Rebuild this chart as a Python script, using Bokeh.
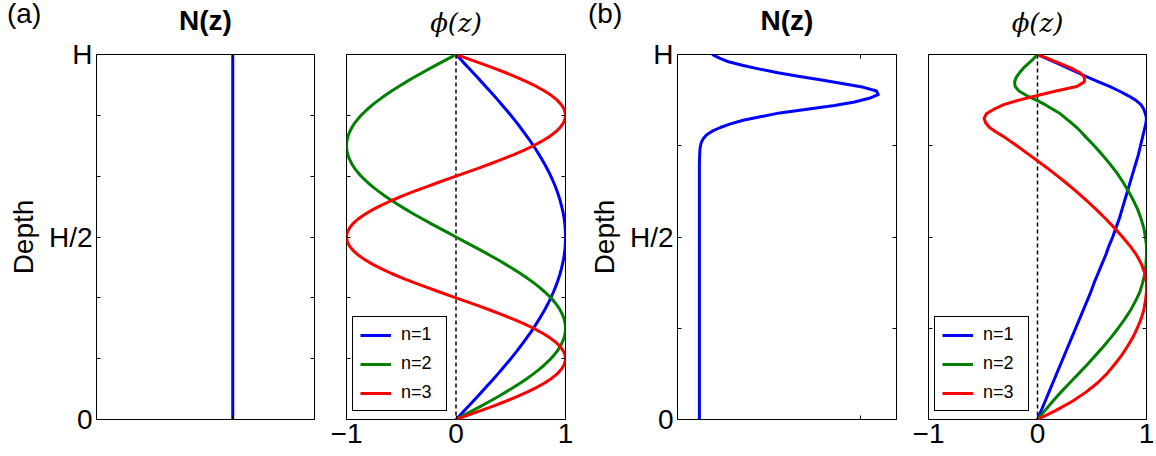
from bokeh.plotting import figure
from bokeh.layouts import row, column
from bokeh.models import Range1d, LinearAxis, FixedTicker, CustomJSTickFormatter, Span, Div
from bokeh.embed import file_html
from bokeh.resources import INLINE

# ---------------- data (depth z in units of H: 0 = bottom, 1 = top) ----------------
# (a) constant stratification
Z_A = [0.0, 0.0125, 0.025, 0.0375, 0.05, 0.0625, 0.075, 0.0875, 0.1, 0.1125, 0.125, 0.1375,
       0.15, 0.1625, 0.175, 0.1875, 0.2, 0.2125, 0.225, 0.2375, 0.25, 0.2625, 0.275, 0.2875,
       0.3, 0.3125, 0.325, 0.3375, 0.35, 0.3625, 0.375, 0.3875, 0.4, 0.4125, 0.425, 0.4375,
       0.45, 0.4625, 0.475, 0.4875, 0.5, 0.5125, 0.525, 0.5375, 0.55, 0.5625, 0.575, 0.5875,
       0.6, 0.6125, 0.625, 0.6375, 0.65, 0.6625, 0.675, 0.6875, 0.7, 0.7125, 0.725, 0.7375,
       0.75, 0.7625, 0.775, 0.7875, 0.8, 0.8125, 0.825, 0.8375, 0.85, 0.8625, 0.875, 0.8875,
       0.9, 0.9125, 0.925, 0.9375, 0.95, 0.9625, 0.975, 0.9875, 1.0]
N_A_Z = [0.0, 1.0]
N_A = [1.0, 1.0]
PHI_A_1 = [0, .039, .078, .118, .156, .195, .233, .271, .309, .346, .383, .419, .454, .489,
           .523, .556, .588, .619, .649, .679, .707, .734, .760, .785, .809, .831, .853, .872,
           .891, .908, .924, .938, .951, .962, .972, .981, .988, .993, .997, .999, 1.0, .999,
           .997, .993, .988, .981, .972, .962, .951, .938, .924, .908, .891, .872, .853, .831,
           .809, .785, .760, .734, .707, .679, .649, .619, .588, .556, .523, .489, .454, .419,
           .383, .346, .309, .271, .233, .195, .156, .118, .078, .039, 0]
PHI_A_2 = [0, .078, .156, .233, .309, .383, .454, .523, .588, .649, .707, .760, .809, .853,
           .891, .924, .951, .972, .988, .997, 1.0, .997, .988, .972, .951, .924, .891, .853,
           .809, .760, .707, .649, .588, .523, .454, .383, .309, .233, .156, .078, 0, -.078,
           -.156, -.233, -.309, -.383, -.454, -.523, -.588, -.649, -.707, -.760, -.809, -.853,
           -.891, -.924, -.951, -.972, -.988, -.997, -1.0, -.997, -.988, -.972, -.951, -.924,
           -.891, -.853, -.809, -.760, -.707, -.649, -.588, -.523, -.454, -.383, -.309, -.233,
           -.156, -.078, 0]
PHI_A_3 = [0, .118, .233, .346, .454, .556, .649, .734, .809, .872, .924, .962, .988, .999,
           .997, .981, .951, .908, .853, .785, .707, .619, .523, .419, .309, .195, .078, -.039,
           -.156, -.271, -.383, -.489, -.588, -.679, -.760, -.831, -.891, -.938, -.972, -.993,
           -1.0, -.993, -.972, -.938, -.891, -.831, -.760, -.679, -.588, -.489, -.383, -.271,
           -.156, -.039, .078, .195, .309, .419, .523, .619, .707, .785, .853, .908, .951, .981,
           .997, .999, .988, .962, .924, .872, .809, .734, .649, .556, .454, .346, .233, .118, 0]

# (b) thermocline near the top
Z_B = [0.0, 0.025, 0.05, 0.075, 0.1, 0.125, 0.15, 0.175, 0.2, 0.225, 0.25, 0.275, 0.3, 0.325,
       0.35, 0.375, 0.4, 0.425, 0.45, 0.475, 0.5, 0.525, 0.55, 0.575, 0.6, 0.625, 0.65, 0.675,
       0.7, 0.725, 0.75, 0.775, 0.7875, 0.8, 0.8125, 0.825, 0.8375, 0.85, 0.8625, 0.875,
       0.8875, 0.9, 0.9125, 0.925, 0.9375, 0.95, 0.9625, 0.975, 0.9875, 1.0]
N_B_Z = [0.0, 0.5, 0.7, 0.72, 0.74, 0.75, 0.76, 0.77, 0.78, 0.79, 0.8, 0.81, 0.82, 0.83, 0.84,
         0.85, 0.86, 0.87, 0.88, 0.89, 0.9, 0.91, 0.92, 0.93, 0.94, 0.95, 0.96, 0.97, 0.98,
         0.99, 1.0]
N_B = [0.12, 0.12, 0.12, 0.121, 0.123, 0.126, 0.131, 0.142, 0.16, 0.19, 0.235, 0.29, 0.36,
       0.46, 0.56, 0.71, 0.86, 0.97, 1.05, 1.10, 1.09, 1.02, 0.91, 0.79, 0.67, 0.55, 0.45,
       0.36, 0.28, 0.23, 0.19]
PHI_B_1 = [0, .035, .07, .105, .14, .175, .21, .245, .28, .315, .35, .385, .42, .455, .49,
           .52, .555, .59, .625, .655, .69, .72, .75, .775, .80, .825, .85, .875, .90, .925,
           .945, .965, .975, .985, .995, 1.0, .99, .975, .95, .90, .83, .75, .66, .56, .465,
           .37, .28, .19, .095, 0]
PHI_B_2 = [0, .07, .14, .215, .295, .375, .455, .53, .605, .675, .74, .80, .855, .90, .94,
           .965, .985, .995, 1.0, 1.0, .99, .975, .95, .92, .88, .835, .785, .73, .665, .595,
           .52, .44, .40, .36, .31, .26, .21, .14, .07, -.01, -.10, -.17, -.205, -.21, -.195,
           -.165, -.13, -.085, -.04, 0]
PHI_B_3 = [0, .17, .32, .445, .55, .635, .705, .77, .825, .875, .915, .95, .975, .99, 1.0,
           1.0, .985, .955, .91, .85, .78, .705, .625, .54, .45, .355, .255, .15, .04, -.075,
           -.19, -.31, -.38, -.44, -.475, -.49, -.47, -.40, -.31, -.17, 0.0, .17, .36, .43,
           .43, .39, .31, .21, .11, 0]

MODES = ["n=1", "n=2", "n=3"]
COLORS = ["#0000ff", "#008000", "#ff0000"]

DEPTH_TICKS_A = [0.0, 1 / 6, 2 / 6, 0.5, 4 / 6, 5 / 6, 1.0]
DEPTH_TICKS_B = [0.0, 0.25, 0.5, 0.75, 1.0]
DEPTH_LABELS = {0: "0", 0.5: "H/2", 1: "H"}
PHI_TICKS = [-1, 0, 1]
PHI_LABELS = {-1: "\u22121", 0: "0", 1: "1"}
N_TICKS = [1]
TAGS = ["(a)", "(b)"]

FONT = "Liberation Sans"
FRAME_H = 365


def style_axis(ax, ticks):
    ax.ticker = FixedTicker(ticks=ticks)
    ax.axis_line_color = None
    ax.major_tick_in = 4
    ax.major_tick_out = 0
    ax.major_tick_line_color = "black"
    ax.major_tick_line_width = 1
    ax.minor_tick_line_color = None
    ax.major_label_text_font = FONT
    ax.major_label_text_font_size = "28px"
    ax.major_label_text_color = "black"


def blank(ax):
    ax.formatter = CustomJSTickFormatter(code="return ''")
    ax.major_label_text_font_size = "0px"
    ax.major_label_standoff = 0


def make_fig(x0, x1, frame_w, left, right):
    p = figure(frame_width=frame_w, frame_height=FRAME_H,
               min_border_left=left, min_border_right=right,
               min_border_top=54, min_border_bottom=37,
               x_range=Range1d(x0, x1), y_range=Range1d(0, 1),
               output_backend="svg", toolbar_location=None, tools="")
    p.xgrid.visible = False
    p.ygrid.visible = False
    p.outline_line_color = "black"
    p.outline_line_width = 1
    p.background_fill_color = "white"
    p.border_fill_color = "white"
    return p


def top_axis(p, ticks, text, font, size, style, standoff):
    tx = LinearAxis()
    style_axis(tx, ticks)
    blank(tx)
    tx.axis_label = text
    tx.axis_label_text_font = font
    tx.axis_label_text_font_size = size
    tx.axis_label_text_font_style = style
    tx.axis_label_text_color = "black"
    tx.axis_label_text_line_height = 1.0
    tx.axis_label_standoff = standoff
    p.add_layout(tx, "above")


def depth_panel(x0, x1, frame_w, left, right, yticks, nz, nv):
    p = make_fig(x0, x1, frame_w, left, right)
    ly = p.yaxis[0]
    style_axis(ly, yticks)
    ly.formatter = CustomJSTickFormatter(code="return ''")
    ly.major_label_overrides = DEPTH_LABELS
    ly.major_label_standoff = 4
    ly.axis_label = "Depth"
    ly.axis_label_text_font = FONT
    ly.axis_label_text_font_size = "28px"
    ly.axis_label_text_font_style = "normal"
    ly.axis_label_text_color = "black"
    ly.axis_label_standoff = 7
    ry = LinearAxis()
    style_axis(ry, yticks)
    blank(ry)
    p.add_layout(ry, "right")
    bx = p.xaxis[0]
    style_axis(bx, N_TICKS)
    blank(bx)
    top_axis(p, N_TICKS, "N(z)", FONT, "28px", "bold", 19)
    p.line(nv, nz, color=COLORS[0], line_width=3, line_join="round")
    return p


def phi_panel(frame_w, left, right, yticks, zs, curves):
    p = make_fig(-1, 1, frame_w, left, right)
    ly = p.yaxis[0]
    style_axis(ly, yticks)
    blank(ly)
    ry = LinearAxis()
    style_axis(ry, yticks)
    blank(ry)
    p.add_layout(ry, "right")
    bx = p.xaxis[0]
    style_axis(bx, PHI_TICKS)
    bx.major_label_overrides = PHI_LABELS
    bx.major_label_standoff = 4
    top_axis(p, PHI_TICKS, "\u03d5(z)", "DejaVu Serif", "26px", "italic", 17)
    p.add_layout(Span(location=0, dimension="height", line_color="black",
                      line_dash="4 3", line_width=1.5, level="underlay"))
    for vals, name, col in zip(curves, MODES, COLORS):
        p.line(vals, zs, color=col, line_width=3, line_join="round", legend_label=name)
    lg = p.legend[0]
    lg.location = (6, 8)
    lg.label_text_font = FONT
    lg.label_text_font_size = "18px"
    lg.label_text_color = "black"
    lg.glyph_width = 31
    lg.glyph_height = 20
    lg.label_height = 20
    lg.label_width = 38
    lg.spacing = 8
    lg.padding = 7
    lg.margin = 0
    lg.label_standoff = 10
    lg.border_line_color = "black"
    lg.border_line_alpha = 1
    lg.border_line_width = 1.5
    lg.background_fill_alpha = 1
    return p


p1 = depth_panel(0, 1.6, 218, 96, 16, DEPTH_TICKS_A, N_A_Z, N_A)
p2 = phi_panel(219, 16, 16, DEPTH_TICKS_A, Z_A, [PHI_A_1, PHI_A_2, PHI_A_3])
p3 = depth_panel(0, 1.2, 219, 96, 16, DEPTH_TICKS_B, N_B_Z, N_B)
p4 = phi_panel(218, 16, 10, DEPTH_TICKS_B, Z_B, [PHI_B_1, PHI_B_2, PHI_B_3])


def tag_div(text, left):
    return Div(text=text, width=40, height=28,
               styles={"position": "absolute", "left": f"{left}px", "top": "-5px",
                       "font-family": FONT, "font-size": "28px",
                       "line-height": "28px", "color": "black", "z-index": "10"})


tag_a = tag_div(TAGS[0], 2)
tag_b = tag_div(TAGS[1], 583)

layout = column(row(p1, p2, p3, p4, spacing=0), tag_a, tag_b, spacing=0)
open("out.html", "w").write(file_html(layout, INLINE))
